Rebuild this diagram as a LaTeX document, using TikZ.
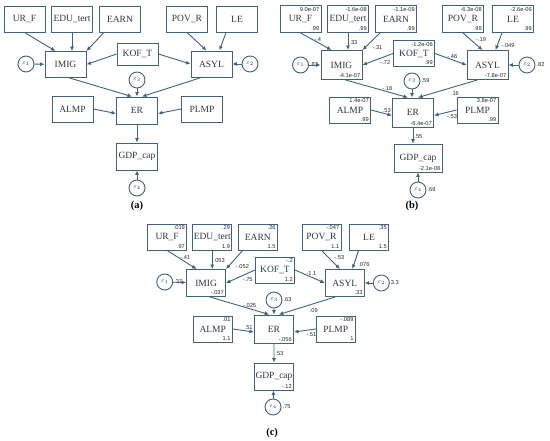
\documentclass[tikz,border=0pt]{standalone}
\usepackage{fontspec}
\setmainfont{Liberation Serif}
\newfontfamily\numfont{Liberation Sans}
\usepackage{tikz}
\usetikzlibrary{arrows.meta}
\definecolor{semblue}{RGB}{62,98,128}
\definecolor{semtext}{RGB}{45,55,70}
\definecolor{numgray}{RGB}{40,40,40}

\begin{document}
\begin{tikzpicture}[
  x=1pt,y=-1pt,
  var/.style={rectangle,draw=semblue,line width=0.9pt,fill=white,
    minimum width=41pt,minimum height=26pt,inner sep=1pt,
    font=\fontsize{9.5}{11}\selectfont,text=semtext},
  err/.style={circle,draw=semblue,line width=0.9pt,minimum size=16pt,
    inner sep=0pt,font=\fontsize{6.5}{7}\selectfont,text=semtext},
  arrow/.style={-{Latex[length=4.5pt,width=4pt]},line width=0.9pt,draw=semblue},
  est/.style={font=\numfont\fontsize{5.7}{6}\selectfont,text=numgray,inner sep=1pt},
  mval/.style={label={[est,anchor=north east,inner sep=2pt]north east:#1}},
  vval/.style={label={[est,anchor=south east,inner sep=2pt]south east:#1}},
  caption/.style={font=\bfseries\fontsize{10.5}{12}\selectfont,text=black},
]
\useasboundingbox (0,0) rectangle (550,441);

% (a) path model
\node[var] (aUR) at (24.5,19) {UR\_F};
\node[var] (aEDU) at (72,19) {EDU\_tert};
\node[var] (aEARN) at (120,19) {EARN};
\node[var] (aPOV) at (187,19) {POV\_R};
\node[var] (aLE) at (237,19) {LE};
\node[var] (aIMIG) at (65.5,64.5) {IMIG};
\node[var,minimum height=22pt] (aKOF) at (137.5,54) {KOF\_T};
\node[var] (aASYL) at (211.5,64) {ASYL};
\node[err] (ae1) at (26,64) {$\varepsilon_1$};
\node[err] (ae2) at (250,64) {$\varepsilon_2$};
\node[err] (ae3) at (137,80) {$\varepsilon_3$};
\node[var] (aALMP) at (72.5,109) {ALMP};
\node[var,minimum height=27pt] (aER) at (137,110.5) {ER};
\node[var] (aPLMP) at (202,109) {PLMP};
\node[var,minimum height=27pt] (aGDP) at (137,156.5) {GDP\_cap};
\node[err] (ae4) at (137,188) {$\varepsilon_4$};
\node[caption] (acap) at (137,206) {(a)};

\draw[arrow] (aUR.south) -- ([xshift=-10pt]aIMIG.north);
\draw[arrow] (aEDU.south) -- (aEDU.south |- aIMIG.north);
\draw[arrow] ([xshift=-16pt]aEARN.south) -- (aIMIG.north east);
\draw[arrow] (aKOF.west) -- (aIMIG.east);
\draw[arrow] (aKOF.east) -- (aASYL.west);
\draw[arrow] (aPOV.south) -- ([xshift=-5pt]aASYL.north);
\draw[arrow] ([xshift=-11pt]aLE.south) -- ([xshift=8pt]aASYL.north);
\draw[arrow] (ae1) -- (aIMIG);
\draw[arrow] (ae2) -- (aASYL);
\draw[arrow] ([xshift=4pt]aIMIG.south) -- ([xshift=-5pt]aER.north);
\draw[arrow] ([xshift=-10pt]aASYL.south) -- ([xshift=5pt]aER.north);
\draw[arrow] (ae3) -- (aER);
\draw[arrow] (aALMP.east) -- ([yshift=-3pt]aER.west);
\draw[arrow] (aPLMP.west) -- ([yshift=-3pt]aER.east);
\draw[arrow] (aER) -- (aGDP);
\draw[arrow] (ae4) -- (aGDP);

% (b) standardized estimates
\begin{scope}[shift={(276,0)}]
\node[var,minimum height=27pt,mval=9.0e-07,vval=.99] (bUR) at (24.5,19) {UR\_F};
\node[var,minimum height=27pt,mval=-1.6e-08,vval=.99] (bEDU) at (72,19) {EDU\_tert};
\node[var,minimum height=27pt,mval=-1.1e-09,vval=.99] (bEARN) at (120,19) {EARN};
\node[var,minimum height=27pt,mval=-6.3e-08,vval=.99] (bPOV) at (187,19) {POV\_R};
\node[var,minimum height=27pt,mval=-2.6e-06,vval=.99] (bLE) at (237,19) {LE};
\node[var,minimum height=29pt,vval=-4.1e-07] (bIMIG) at (65.5,65) {IMIG};
\node[var,minimum height=26pt,mval=-1.2e-06,vval=.99] (bKOF) at (138,53.5) {KOF\_T};
\node[var,minimum height=29pt,vval=-7.8e-07] (bASYL) at (211.5,65) {ASYL};
\node[err,label={[est]right:.82}] (be1) at (24.5,65) {$\varepsilon_1$};
\node[err,label={[est]right:.82}] (be2) at (251,65) {$\varepsilon_2$};
\node[err,label={[est]right:.59}] (be3) at (136,81) {$\varepsilon_3$};
\node[var,mval=1.4e-07,vval=.99] (bALMP) at (74,110) {ALMP};
\node[var,minimum height=29pt,vval=-6.4e-07] (bER) at (137,112.5) {ER};
\node[var,mval=3.8e-07,vval=.99] (bPLMP) at (201.5,110) {PLMP};
\node[var,minimum width=48pt,minimum height=28pt,vval=-2.1e-08] (bGDP) at (142,158) {GDP\_cap};
\node[err,label={[est]right:.69}] (be4) at (142,190) {$\varepsilon_4$};
\node[caption] (bcap) at (136,206) {(b)};

\draw[arrow] (bUR.south) -- node[est,pos=0.4,right]{-.4} ([xshift=-10pt]bIMIG.north);
\draw[arrow] (bEDU.south) -- node[est,pos=0.55,right]{.33} (bEDU.south |- bIMIG.north);
\draw[arrow] ([xshift=-16pt]bEARN.south) -- node[est,pos=0.85,right=6pt]{-.31} (bIMIG.north east);
\draw[arrow] (bKOF.west) -- node[est,pos=0.25,below=3pt]{-.72} (bIMIG.east);
\draw[arrow] (bKOF.east) -- node[est,pos=0.55,above]{-.46} (bASYL.west);
\draw[arrow] (bPOV.south) -- node[est,pos=0.4,right=4pt]{-.19} ([xshift=-5pt]bASYL.north);
\draw[arrow] ([xshift=-11pt]bLE.south) -- node[est,pos=0.75,right=3pt]{-.049} ([xshift=8pt]bASYL.north);
\draw[arrow] (be1) -- (bIMIG);
\draw[arrow] (be2) -- (bASYL);
\draw[arrow] ([xshift=4pt]bIMIG.south) -- node[est,pos=0.67,above]{-.18} ([xshift=-5pt]bER.north);
\draw[arrow] ([xshift=-10pt]bASYL.south) -- node[est,pos=0.38,below=3pt]{.16} ([xshift=5pt]bER.north);
\draw[arrow] (be3) -- (be3 |- bER.north);
\draw[arrow] (bALMP.east) -- node[est,pos=0.75,above]{.53} ([yshift=-3pt]bER.west);
\draw[arrow] (bPLMP.west) -- node[est,pos=0.2,below=2pt]{-.53} ([yshift=-3pt]bER.east);
\draw[arrow] (bER.south) -- node[est,pos=0.55,right]{.55} (bER.south |- bGDP.north);
\draw[arrow] (be4) -- (bGDP);
\end{scope}

% (c) unstandardized estimates
\begin{scope}[shift={(143.85,218)},xscale=0.95,var/.append style={minimum width=39pt}]
\node[var,mval=.019,vval=.97] (cUR) at (24.5,19) {UR\_F};
\node[var,mval=.29,vval=1.9] (cEDU) at (72,19) {EDU\_tert};
\node[var,mval=.26,vval=1.5] (cEARN) at (120,19) {EARN};
\node[var,mval=-.047,vval=1.1] (cPOV) at (187,19) {POV\_R};
\node[var,mval=.35,vval=1.5] (cLE) at (237,19) {LE};
\node[var,minimum height=27pt,vval=-.037] (cIMIG) at (65.5,65) {IMIG};
\node[var,mval=-.2,vval=1.2] (cKOF) at (138,52) {KOF\_T};
\node[var,minimum height=27pt,vval=.33] (cASYL) at (211.5,65) {ASYL};
\node[err,label={[est]right:.37}] (ce1) at (22,64) {$\varepsilon_1$};
\node[err,label={[est]right:3.3}] (ce2) at (250,65) {$\varepsilon_2$};
\node[err,label={[est]right:.63}] (ce3) at (137,82) {$\varepsilon_3$};
\node[var,mval=.01,vval=1.1] (cALMP) at (72.5,111) {ALMP};
\node[var,minimum height=28pt,vval=-.056] (cER) at (137,111) {ER};
\node[var,mval=-.089,vval=1] (cPLMP) at (202,111) {PLMP};
\node[var,minimum height=27pt,vval=-.12] (cGDP) at (137,158.5) {GDP\_cap};
\node[err,label={[est]right:.75}] (ce4) at (136,189) {$\varepsilon_4$};
\node[caption] (ccap) at (135,215) {(c)};

\draw[arrow] (cUR.south) -- node[est,pos=0.4,right]{-.41} ([xshift=-10pt]cIMIG.north);
\draw[arrow] (cEDU.south) -- node[est,pos=0.55,right]{.053} (cEDU.south |- cIMIG.north);
\draw[arrow] ([xshift=-16pt]cEARN.south) -- node[est,pos=0.85,right=6pt]{-.052} (cIMIG.north east);
\draw[arrow] (cKOF.west) -- node[est,pos=0.25,below=3pt]{-.75} (cIMIG.east);
\draw[arrow] (cKOF.east) -- node[est,pos=0.55,above]{-1.1} (cASYL.west);
\draw[arrow] (cPOV.south) -- node[est,pos=0.4,right=4pt]{-.53} ([xshift=-5pt]cASYL.north);
\draw[arrow] ([xshift=-11pt]cLE.south) -- node[est,pos=0.75,right=3pt]{.076} ([xshift=8pt]cASYL.north);
\draw[arrow] (ce1) -- (cIMIG);
\draw[arrow] (ce2) -- (cASYL);
\draw[arrow] ([xshift=4pt]cIMIG.south) -- node[est,pos=0.67,above]{-.025} ([xshift=-5pt]cER.north);
\draw[arrow] ([xshift=-10pt]cASYL.south) -- node[est,pos=0.38,below=3pt]{.09} ([xshift=5pt]cER.north);
\draw[arrow] (ce3) -- (cER);
\draw[arrow] (cALMP.east) -- node[est,pos=0.75,above]{.51} ([yshift=-3pt]cER.west);
\draw[arrow] (cPLMP.west) -- node[est,pos=0.2,below=2pt]{-.51} ([yshift=-3pt]cER.east);
\draw[arrow] (cER) -- node[est,pos=0.55,right]{.53} (cGDP);
\draw[arrow] (ce4) -- (cGDP);
\end{scope}
\end{tikzpicture}
\end{document}
